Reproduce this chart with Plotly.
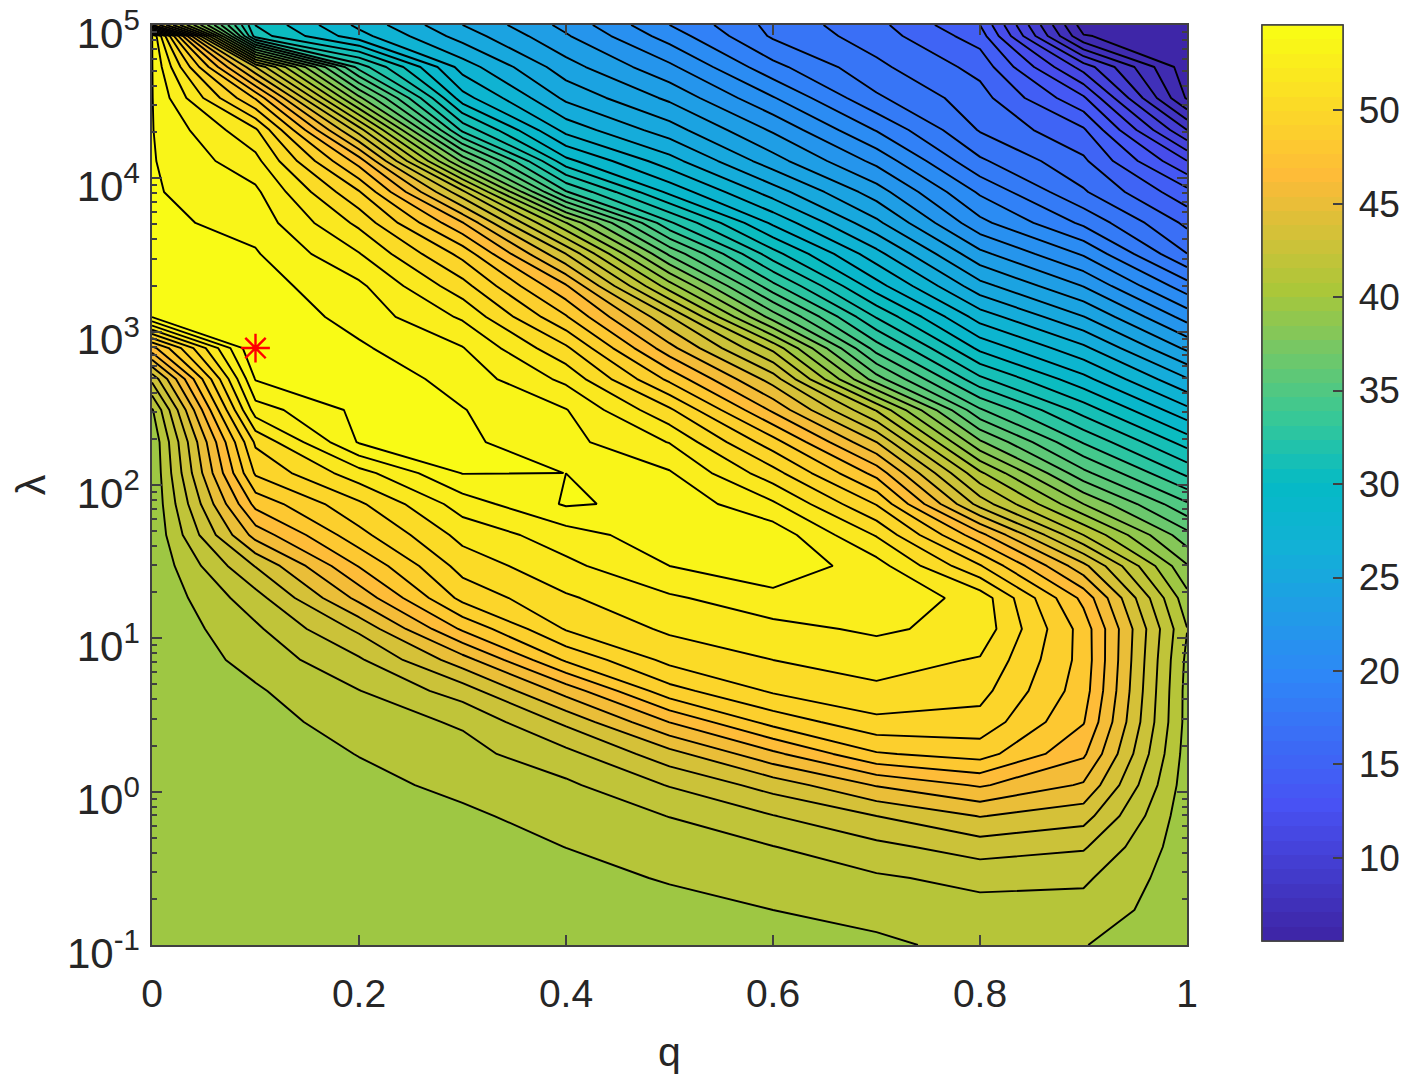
"""q-lambda 등고선 그림 재현 (parula, 로그 y축)."""
import plotly.graph_objects as go

FONT = "Liberation Sans, Arial, sans-serif"
TEXT = "#262626"
EDGE = "#404040"

q_values = [0.0, 0.1, 0.2, 0.3, 0.4, 0.5, 0.6, 0.7, 0.8, 0.9, 1.0]

# log10(lambda) 격자, 아래에서 위로
lambda_exp = [
    -1.0, -0.772, -0.563, -0.361, -0.159, 0.043, 0.246, 0.454, 0.657, 0.859, 1.061,
    1.263, 1.472, 1.674, 1.876, 2.078, 2.28, 2.489, 2.691, 2.893, 3.096, 3.298,
    3.507, 3.709, 3.911, 4.113, 4.315, 4.524, 4.726, 4.928, 5.0,
]

# q 별 값, lambda_exp 와 같은 순서
z_q00 = [39.3, 39.3, 39.3, 39.3, 39.3, 39.3, 39.3, 39.3, 39.3, 39.3, 39.3, 39.3, 39.3, 39.3, 39.3, 39.3,
         39.35, 40.0, 42.3, 46.5, 53.6, 54.3, 54.1, 53.82, 53.66, 53.63, 53.6, 53.6, 53.6, 53.6, 45.0]
z_q01 = [39.25, 39.27, 39.3, 39.35, 39.4, 39.45, 39.55, 39.7, 40.0, 40.45, 40.9, 41.65, 43.05, 45.3, 47.15, 48.9,
         49.9, 52.15, 53.62, 54.55, 54.3, 54.0, 53.65, 53.2, 52.8, 51.95, 50.85, 47.7, 43.0, 31.0, 30.5]
z_q02 = [39.25, 39.3, 39.35, 39.45, 39.6, 39.85, 40.15, 40.6, 41.05, 41.9, 43.2, 45.2, 46.9, 48.45, 49.55, 51.25,
         53.65, 53.8, 54.2, 53.7, 53.2, 52.8, 51.7, 50.45, 48.85, 46.4, 42.5, 37.5, 33.0, 28.0, 27.4]
z_q03 = [39.25, 39.3, 39.4, 39.6, 39.95, 40.35, 40.75, 41.2, 42.5, 44.5, 47.0, 49.05, 50.1, 51.0, 52.1, 53.6,
         53.75, 53.6, 53.2, 52.65, 51.5, 50.1, 48.45, 45.95, 42.3, 37.0, 32.2, 29.0, 27.2, 25.3, 24.76]
z_q04 = [39.3, 39.5, 39.8, 40.13, 40.5, 40.9, 41.75, 43.2, 45.3, 47.95, 49.8, 50.55, 51.4, 52.15, 53.67, 53.559,
         52.9, 52.65, 51.4, 49.9, 47.9, 46.0, 43.0, 39.2, 33.5, 29.85, 27.3, 25.5, 24.2, 22.95, 22.55]
z_q05 = [39.4, 39.8, 40.2, 40.6, 41.1, 42.1, 43.6, 45.9, 48.4, 50.0, 50.85, 51.5, 52.6, 53.2, 53.3, 52.7,
         51.6, 49.9, 47.56, 45.26, 43.1, 39.6, 36.1, 32.6, 29.3, 27.06, 25.2, 23.6, 22.1, 20.5, 19.96]
z_q06 = [39.5, 40.12, 40.6, 41.05, 42.0, 43.4, 45.65, 48.15, 49.85, 50.68, 51.35, 52.25, 53.35, 53.2, 51.8, 50.1,
         48.2, 45.7, 43.5, 40.8, 36.8, 33.7, 30.9, 28.4, 26.2, 24.2, 22.7, 21.0, 19.3, 17.9, 17.73]
z_q07 = [39.9, 40.5, 40.95, 41.77, 43.0, 45.0, 47.7, 49.47, 50.48, 51.1, 51.8, 52.4, 52.05, 50.6, 48.7, 46.5,
         43.96, 41.0, 36.7, 33.9, 31.4, 29.0, 27.0, 25.0, 23.3, 21.6, 19.9, 18.2, 17.3, 16.6, 16.4]
z_q08 = [40.45, 40.75, 41.35, 42.5, 44.0, 46.0, 48.2, 49.37, 50.05, 50.6, 51.3, 51.25, 48.85, 46.2, 42.6, 40.3,
         37.4, 34.5, 31.7, 29.3, 27.2, 25.1, 23.1, 21.2, 19.8, 18.2, 17.0, 16.5, 15.8, 14.7, 14.2]
z_q09 = [40.15, 40.72, 41.25, 42.15, 43.4, 44.8, 46.05, 46.9, 47.3, 47.45, 47.4, 46.56, 44.25, 41.08, 38.2, 35.6,
         33.3, 31.05, 28.9, 26.9, 24.8, 22.8, 20.8, 18.8, 17.2, 16.3, 15.3, 13.4, 10.9, 6.6, 6.0]
z_q10 = [39.5, 39.5, 39.5, 39.5, 39.5, 39.6, 39.7, 39.8, 39.8, 39.9, 40.15, 39.5, 38.3, 36.6, 34.5, 32.2,
         30.1, 27.9, 25.8, 23.6, 21.5, 19.4, 17.1, 15.9, 14.5, 12.3, 9.4, 6.4, 5.9, 5.7, 5.6]

best_q = [0.1]
best_lambda_exp = [2.893]

x_ticks = [0, 0.2, 0.4, 0.6, 0.8, 1]
x_tick_text = ["0", "0.2", "0.4", "0.6", "0.8", "1"]
y_ticks = [0.1, 1, 10, 100, 1000, 10000, 100000]
y_tick_text = ["10<sup>-1</sup>", "10<sup>0</sup>", "10<sup>1</sup>", "10<sup>2</sup>",
               "10<sup>3</sup>", "10<sup>4</sup>", "10<sup>5</sup>"]
bar_ticks = [10, 15, 20, 25, 30, 35, 40, 45, 50]

Z_MIN, Z_MAX = 5.56, 54.55
LEVEL_STEP = 0.96

# parula 기준색 (MATLAB 64단계로 끊어서 사용)
_PARULA = [
    (0.0, (62, 38, 168)), (0.143, (72, 82, 244)), (0.286, (46, 135, 247)),
    (0.429, (18, 177, 214)), (0.5, (5, 186, 197)), (0.571, (55, 200, 151)),
    (0.714, (171, 199, 57)), (0.84, (254, 187, 56)), (1.0, (249, 251, 21)),
]


def _parula_at(t):
    for (t0, c0), (t1, c1) in zip(_PARULA, _PARULA[1:]):
        if t <= t1:
            f = (t - t0) / (t1 - t0)
            return [round(a + (b - a) * f) for a, b in zip(c0, c1)]
    return list(_PARULA[-1][1])


def _stepped_scale(n=64):
    scale = []
    for i in range(n):
        r, g, b = _parula_at(i / (n - 1))
        color = f"rgb({r},{g},{b})"
        scale.append([i / n, color])
        scale.append([(i + 1) / n, color])
    return scale


def _colorbar_trace(**tick_opts):
    """점 없이 컬러바만 그리는 trace."""
    return go.Scatter(
        x=[None, None],
        y=[None, None],
        mode="markers",
        showlegend=False,
        marker=dict(
            color=[Z_MIN, Z_MAX],
            cmin=Z_MIN,
            cmax=Z_MAX,
            colorscale=colorscale,
            showscale=True,
            colorbar=dict(
                thickness=81,
                thicknessmode="pixels",
                len=916 / 920,
                lenmode="fraction",
                x=1110 / 1035,
                xanchor="left",
                xpad=0,
                y=1,
                yanchor="top",
                ypad=0,
                outlinecolor=EDGE,
                outlinewidth=1.5,
                tickvals=bar_ticks,
                **tick_opts,
            ),
        ),
    )


columns = [z_q00, z_q01, z_q02, z_q03, z_q04, z_q05, z_q06, z_q07, z_q08, z_q09, z_q10]
z_rows = [list(row) for row in zip(*columns)]
lambda_values = [10 ** e for e in lambda_exp]
colorscale = _stepped_scale()

fig = go.Figure()
fig.add_trace(go.Contour(
    x=q_values,
    y=lambda_values,
    z=z_rows,
    colorscale=colorscale,
    zauto=False,
    zmin=Z_MIN + LEVEL_STEP / 2,
    zmax=Z_MAX + LEVEL_STEP / 2,
    autocontour=False,
    contours=dict(start=Z_MIN + LEVEL_STEP, end=53.56, size=LEVEL_STEP, coloring="fill", showlines=True),
    line=dict(color="black", width=1.9, smoothing=0),
    showscale=False,
    hoverinfo="skip",
))
fig.add_trace(go.Scatter(
    x=best_q,
    y=[10 ** e for e in best_lambda_exp],
    mode="markers",
    marker=dict(symbol="asterisk-open", size=24, color="red", line=dict(color="red", width=2.4)),
    showlegend=False,
))
# 글자 간격은 바깥쪽 흰 눈금으로 벌리고, 안쪽 눈금은 위에 한 겹 더 그린다
fig.add_trace(_colorbar_trace(
    ticks="outside",
    ticklen=8,
    tickcolor="white",
    tickfont=dict(family=FONT, size=37, color=TEXT),
))
fig.add_trace(_colorbar_trace(
    ticks="inside",
    ticklen=10,
    tickwidth=1.5,
    tickcolor=EDGE,
    showticklabels=False,
))

axis_style = dict(
    showline=True,
    linecolor=EDGE,
    linewidth=1.5,
    mirror="allticks",
    showgrid=False,
    zeroline=False,
    ticks="inside",
    ticklen=10,
    tickwidth=1.5,
    tickcolor=EDGE,
    tickfont=dict(family=FONT, size=39, color=TEXT),
    ticklabeloverflow="allow",
)
# 페이지 body 여백(8px)만큼 뺀 크기
fig.update_layout(
    width=1392,
    height=1067,
    autosize=False,
    margin=dict(l=144, r=213, t=17, b=130, autoexpand=False),
    paper_bgcolor="white",
    plot_bgcolor="white",
    showlegend=False,
    xaxis=dict(
        axis_style,
        range=[0, 1],
        tickvals=x_ticks,
        ticktext=x_tick_text,
        ticklabelstandoff=13,
        title=dict(text="q", font=dict(family=FONT, size=41, color=TEXT), standoff=26),
    ),
    yaxis=dict(
        axis_style,
        type="log",
        range=[-1, 5.00001],
        tickvals=y_ticks,
        ticktext=y_tick_text,
        tickfont=dict(family=FONT, size=42, color=TEXT),
        ticklabelstandoff=2,
        ticklabelshift=8,
        minor=dict(ticks="inside", ticklen=5, tickwidth=1.5, tickcolor=EDGE, dtick="D1"),
        title=dict(text="λ", font=dict(family=FONT, size=41, color=TEXT), standoff=20),
    ),
)

fig.write_html("out.html")
